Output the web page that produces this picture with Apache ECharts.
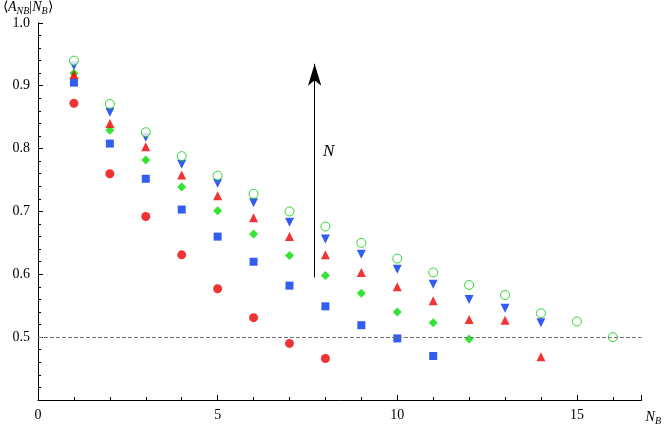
<!DOCTYPE html>
<html><head><meta charset="utf-8">
<script src="https://cdn.jsdelivr.net/npm/echarts@6/dist/echarts.min.js"></script>
<style>html,body{margin:0;padding:0;background:#fff}#c{width:664px;height:426px}</style>
</head><body><div id="c"></div>
<script>
const redCircles = [0.872,0.760,0.692,0.631,0.577,0.531,0.490,0.466];
const blueSquares = [0.905,0.808,0.752,0.703,0.660,0.620,0.582,0.549,0.519,0.498,0.470];
const greenDiamonds = [0.920,0.829,0.782,0.739,0.701,0.664,0.630,0.598,0.570,0.540,0.523,0.497];
const redTriangles = [0.918,0.840,0.803,0.758,0.725,0.690,0.660,0.631,0.603,0.580,0.558,0.528,0.527,0.469];
const blueDown = [0.932,0.858,0.818,0.775,0.745,0.714,0.683,0.656,0.632,0.608,0.584,0.560,0.546,0.523];
const greenOpen = [0.940,0.871,0.826,0.788,0.757,0.728,0.700,0.676,0.650,0.625,0.603,0.583,0.567,0.538,0.525,0.500];
const arrowFrom = [7.7, 0.595], arrowTo = [7.7, 0.935];
const refLine = 0.5;

const pts = a => a.map((v,i)=>[i+1,v]);
const font = 'Liberation Serif';
const rich = {i:{fontFamily:font,fontStyle:'italic',fontSize:14,color:'#000'},
              s:{fontFamily:font,fontStyle:'italic',fontSize:10,color:'#000',padding:[8,0,0,0]},
              n:{fontFamily:font,fontSize:14,color:'#000'}};
function s(data, symbol, color, size, rot){
  return {type:'scatter', data:pts(data), symbol, symbolSize:size, symbolRotate:rot||0, itemStyle:{color}, z:3};
}
const chart = echarts.init(document.getElementById('c'));
chart.setOption({
  animation:false,
  grid:{left:35,right:21,top:17,bottom:19},
  xAxis:{type:'value',min:0,max:16.8,interval:5,
    axisLine:{lineStyle:{color:'#000'}},axisTick:{inside:true,length:5,lineStyle:{color:'#000'}},
    minorTick:{show:true,splitNumber:5,length:3,lineStyle:{color:'#000'}},
    splitLine:{show:false},
    axisLabel:{color:'#000',fontFamily:font,fontSize:14,showMaxLabel:false},
    name:'{i|N}{s|B}',nameLocation:'end',nameGap:4,
    nameTextStyle:{rich,verticalAlign:'top',padding:[8,0,0,0]}},
  yAxis:{type:'value',min:0.4,max:1.0,interval:0.1,
    axisLine:{onZero:false,lineStyle:{color:'#000'}},axisTick:{inside:true,length:5,lineStyle:{color:'#000'}},
    minorTick:{show:true,splitNumber:5,length:3,lineStyle:{color:'#000'}},
    splitLine:{show:false},
    axisLabel:{color:'#000',fontFamily:font,fontSize:14,showMinLabel:false,formatter:v=>v.toFixed(1)},
    name:'{n|⟨}{i|A}{s|N}{s|B}{n||}{i|N}{s|B}{n|⟩}',nameGap:2,
    nameTextStyle:{rich,align:'left',padding:[0,0,-2,-35]}},
  series:[
    s(redCircles,'circle','#ee0000',9),
    s(blueSquares,'rect','#0033ee',8),
    s(greenDiamonds,'diamond','#00dd00',9),
    s(redTriangles,'triangle','#ee0000',9),
    s(blueDown,'triangle','#0033ee',9,180),
    {type:'scatter',data:pts(greenOpen),symbol:'circle',symbolSize:9,
     itemStyle:{color:'#fff',borderColor:'#00cc00',borderWidth:1},z:4,
     markLine:{silent:true,symbol:['none','none'],label:{show:false},
       lineStyle:{type:'dashed',color:'#777',width:1},data:[{yAxis:refLine}]}},
    {type:'line',data:[],markLine:{silent:true,symbol:['none','arrow'],symbolSize:[10,22],label:{show:false},
      lineStyle:{type:'solid',color:'#000',width:1},
      data:[[{coord:arrowFrom},{coord:arrowTo}]]},
     markPoint:{symbol:'circle',symbolSize:1,itemStyle:{color:'transparent'},
      label:{show:true,formatter:'N',fontFamily:font,fontStyle:'italic',fontSize:17,color:'#000',offset:[14,0]},
      data:[{coord:[7.7,0.795]}]}}
  ]
});
</script></body></html>
